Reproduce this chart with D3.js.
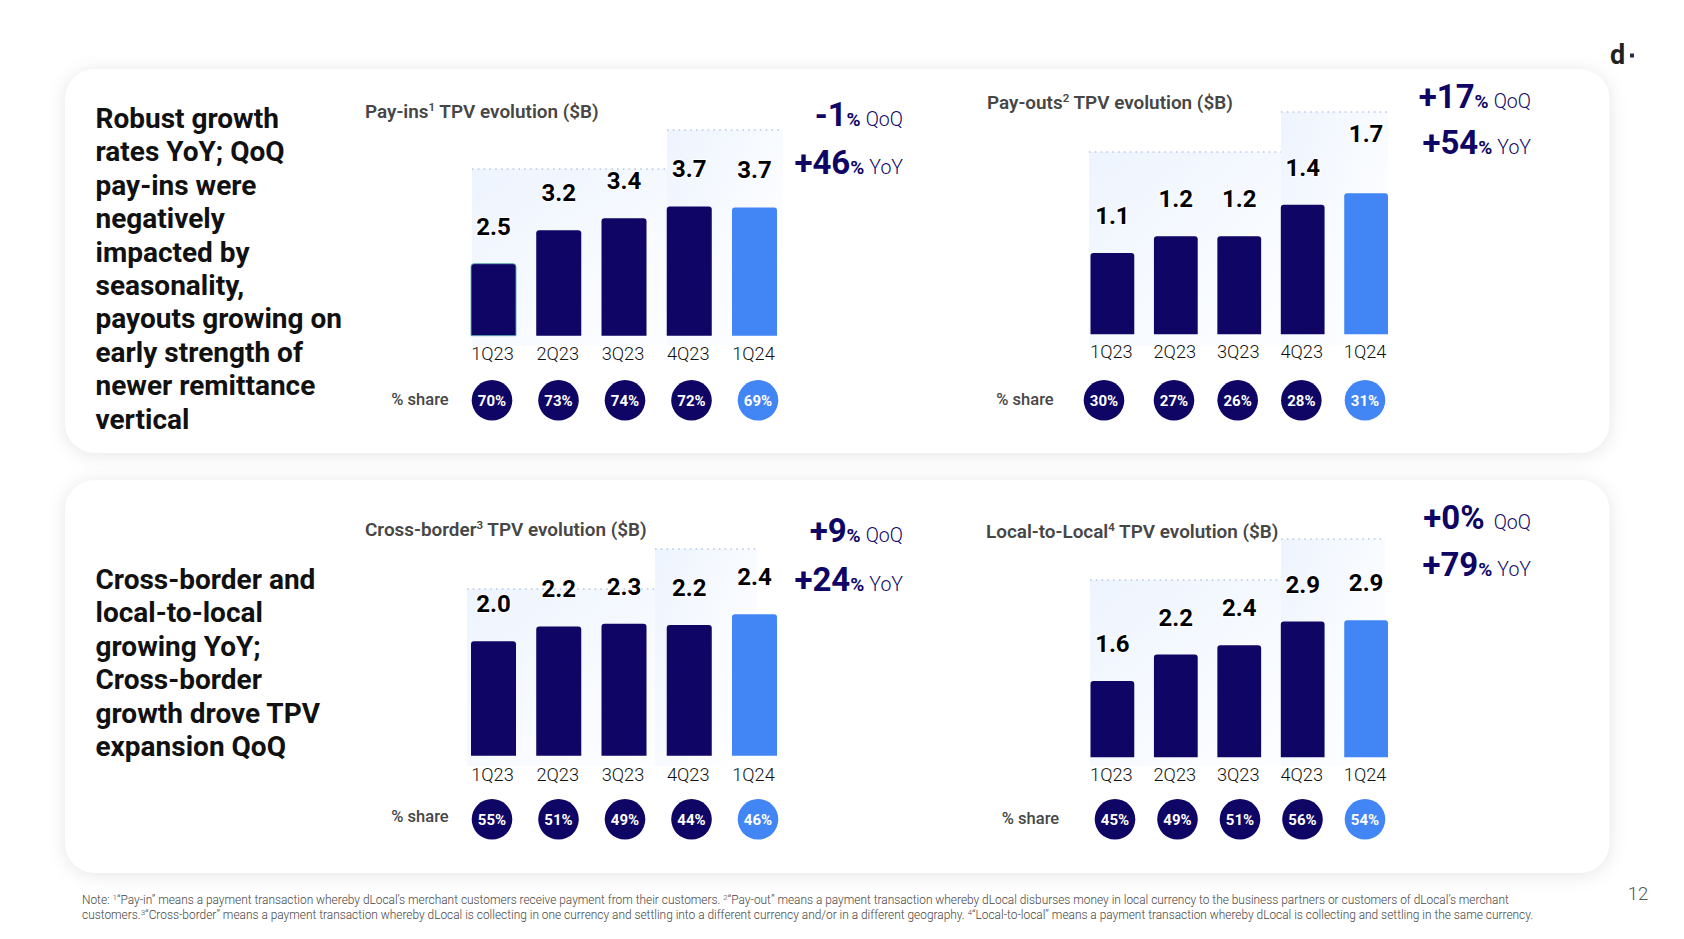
<!DOCTYPE html>
<html>
<head>
<meta charset="utf-8">
<script src="https://cdn.jsdelivr.net/npm/d3@7"></script>
<style>
html,body{margin:0;padding:0;background:#fff;}
svg{display:block;font-family:Roboto,sans-serif;}
.card{fill:#fff;filter:drop-shadow(0 2px 9px rgba(0,0,0,0.10));}
</style>
</head>
<body>
<script>
var quarters = ["1Q23","2Q23","3Q23","4Q23","1Q24"];

// bar heights, printed labels kept apart because the slide's bars are not exact
var payInsValues = [2.51,3.21,3.46,3.71,3.69];
var payInsLabels = ["2.5","3.2","3.4","3.7","3.7"];
var payInsShare = [70,73,74,72,69];

var payOutsValues = [0.98,1.18,1.18,1.56,1.70];
var payOutsLabels = ["1.1","1.2","1.2","1.4","1.7"];
var payOutsShare = [30,27,26,28,31];

var crossBorderValues = [2.0,2.22,2.26,2.24,2.40];
var crossBorderLabels = ["2.0","2.2","2.3","2.2","2.4"];
var crossBorderShare = [55,51,49,44,46];

var localValues = [1.64,2.21,2.41,2.92,2.95];
var localLabels = ["1.6","2.2","2.4","2.9","2.9"];
var localShare = [45,49,51,56,54];

var leftTop = ["Robust growth","rates YoY; QoQ","pay-ins were","negatively","impacted by","seasonality,","payouts growing on","early strength of","newer remittance","vertical"];
var leftBottom = ["Cross-border and","local-to-local","growing YoY;","Cross-border","growth drove TPV","expansion QoQ"];

var navy = "#0e0565", blue = "#4285f4", grey = "#464646";

var panels = [
 {title:"Pay-ins",sup:"1",tx:365,ty:118,values:payInsValues,labels:payInsLabels,share:payInsShare,
  qoq:"-1",yoy:"+46",rx:903,qy:126,yy:174,outline:0,
  bx:[471,777],by:335.7,base:1.0,ppu:47.7,tickY:347,
  bandA:[472,783,169],bandB:[667,783,130],bandBottom:346,
  sx:[492,558.5,758],sy:400.3,shareX:420,shareY:405},
 {title:"Pay-outs",sup:"2",tx:987,ty:109,values:payOutsValues,labels:payOutsLabels,share:payOutsShare,
  qoq:"+17",yoy:"+54",rx:1531,qy:108,yy:154,
  bx:[1090.5,1388],by:334.3,base:0,ppu:83,tickY:345,labelLift:{4:22},
  bandA:[1089,1388,152],bandB:[1281,1388,112],bandBottom:346,
  sx:[1104,1174,1365],sy:400.3,shareX:1025,shareY:405},
 {title:"Cross-border",sup:"3",tx:365,ty:536,values:crossBorderValues,labels:crossBorderLabels,share:crossBorderShare,
  qoq:"+9",yoy:"+24",rx:903,qy:542,yy:591,
  bx:[471,777],by:755.7,base:0.305,ppu:67.5,tickY:768,
  bandA:[467,757,589],bandB:[655,757,549],bandBottom:766,
  sx:[492,558.5,758],sy:819.3,shareX:420,shareY:822},
 {title:"Local-to-Local",sup:"4",tx:986,ty:538,values:localValues,labels:localLabels,share:localShare,
  qoq:"+0%",yoy:"+79",rx:1531,qy:529,yy:576,
  bx:[1090.5,1388],by:757.3,base:0,ppu:46.5,tickY:768,
  bandA:[1090,1385,580],bandB:[1281,1385,539],bandBottom:766,
  sx:[1115,1177.5,1365],sy:819.3,shareX:1030.5,shareY:824}
];

var svg = d3.select("body").append("svg").attr("width",1684).attr("height",939);

var grad = svg.append("defs").append("linearGradient").attr("id","bandFill")
    .attr("x1","0").attr("y1","0").attr("x2","1").attr("y2","0.8");
grad.append("stop").attr("offset","0").attr("stop-color","#eef4fe");
grad.append("stop").attr("offset","0.7").attr("stop-color","#fafcff");
grad.append("stop").attr("offset","1").attr("stop-color","#ffffff");

svg.append("rect").attr("class","card").attr("x",65).attr("y",69).attr("width",1544.5).attr("height",384).attr("rx",30);
svg.append("rect").attr("class","card").attr("x",65).attr("y",480).attr("width",1544.5).attr("height",393).attr("rx",30);

function leftText(lines,x,y){
    svg.append("g").selectAll("text").data(lines).join("text")
        .attr("x",x).attr("y",function(d,i){return y+i*33.4;})
        .attr("font-size",28).attr("font-weight",700).attr("fill","#111")
        .text(function(d){return d;});
}
leftText(leftTop,95.5,128);
leftText(leftBottom,95.5,589);

// bar with small rounded top corners
function barPath(x,y,w,h){
    var r = 3;
    return "M"+x+","+(y+h)+"V"+(y+r)+"Q"+x+","+y+" "+(x+r)+","+y+"H"+(x+w-r)+"Q"+(x+w)+","+y+" "+(x+w)+","+(y+r)+"V"+(y+h)+"Z";
}

function drawBand(g,b,bottom){
    g.append("rect").attr("x",b[0]).attr("y",b[2]).attr("width",b[1]-b[0]).attr("height",bottom-b[2]).attr("fill","url(#bandFill)");
    g.append("line").attr("x1",b[0]).attr("x2",b[1]).attr("y1",b[2]).attr("y2",b[2])
        .attr("stroke","#b9c6e6").attr("stroke-width",1.6).attr("stroke-dasharray","1.6 4.2");
}

function drawPanel(p){
    var g = svg.append("g");
    drawBand(g,p.bandA,p.bandBottom);
    drawBand(g,p.bandB,p.bandBottom);

    var x = d3.scaleBand().domain(quarters).range(p.bx).paddingInner(0.31).paddingOuter(0);
    var topValue = p.base+300/p.ppu;
    var y = d3.scaleLinear().domain([p.base,topValue]).range([p.by,p.by-300]);
    var rows = quarters.map(function(q,i){
        return {q:q,value:p.values[i],label:p.labels[i],share:p.share[i],last:i==quarters.length-1,i:i};
    });

    var title = g.append("text").attr("x",p.tx).attr("y",p.ty).attr("font-size",18.9).attr("font-weight",600).attr("fill",grey);
    title.append("tspan").text(p.title);
    title.append("tspan").attr("font-size",11.5).attr("dy",-7).text(p.sup);
    title.append("tspan").attr("dy",7).text(" TPV evolution ($B)");

    g.selectAll(".bar").data(rows).join("path").attr("class","bar")
        .attr("d",function(d){return barPath(x(d.q),y(d.value),x.bandwidth(),p.by-y(d.value));})
        .attr("fill",function(d){return d.last?blue:navy;})
        .attr("stroke",function(d){return d.i===p.outline?"#5fb0b5":"none";})
        .attr("stroke-width",0.9);

    g.selectAll(".val").data(rows).join("text").attr("class","val")
        .attr("x",function(d){return x(d.q)+x.bandwidth()/2;})
        .attr("y",function(d){return y(d.value)-29-((p.labelLift&&p.labelLift[d.i])||0);})
        .attr("text-anchor","middle").attr("font-size",24).attr("font-weight",700).attr("fill","#000")
        .attr("stroke","#fff").attr("stroke-width",2).attr("paint-order","stroke")
        .text(function(d){return d.label;});

    var axis = g.append("g").attr("transform","translate(-1,"+p.tickY+")")
        .call(d3.axisBottom(x).tickSize(0).tickPadding(0));
    axis.select(".domain").remove();
    axis.selectAll("text").attr("font-size",18.2).attr("font-family","Roboto").attr("font-weight",300).attr("fill","#111");

    var sx = d3.scaleLinear().domain([0,1,4]).range(p.sx);
    g.append("text").attr("x",p.shareX).attr("y",p.shareY).attr("text-anchor","middle")
        .attr("font-size",16.5).attr("font-weight",500).attr("fill",grey).text("% share");
    g.selectAll(".dot").data(rows).join("circle").attr("class","dot")
        .attr("cx",function(d){return sx(d.i);}).attr("cy",p.sy).attr("r",20.3)
        .attr("fill",function(d){return d.last?blue:navy;});
    g.selectAll(".pct").data(rows).join("text").attr("class","pct")
        .attr("x",function(d){return sx(d.i);}).attr("y",p.sy+5.3)
        .attr("text-anchor","middle").attr("font-size",15).attr("font-weight",700).attr("fill","#fff")
        .text(function(d){return d.share+"%";});

    growth(g,p.rx,p.qy,p.qoq,"QoQ");
    growth(g,p.rx,p.yy,p.yoy,"YoY");
}

function growth(g,x,y,num,unit){
    var t = g.append("text").attr("x",x).attr("y",y).attr("text-anchor","end").attr("fill",navy);
    t.append("tspan").attr("font-size",33).attr("font-weight",700).text(num);
    if(num.indexOf("%")<0){
        t.append("tspan").attr("font-size",19).attr("font-weight",700).text("%");
    }
    t.append("tspan").attr("font-size",19.5).attr("font-weight",300).attr("dx",num.indexOf("%")<0?5:9).text(unit);
}

panels.forEach(drawPanel);

// logo and page number
svg.append("text").attr("x",1610).attr("y",64).attr("font-size",27).attr("font-weight",700).attr("fill","#222").text("d");
svg.append("rect").attr("x",1630).attr("y",53.5).attr("width",4).attr("height",4).attr("fill","#2b2b50");
svg.append("text").attr("x",1638).attr("y",900).attr("text-anchor","middle").attr("font-size",18.5).attr("font-weight",300).attr("fill","#555").text("12");

// footnote, superscripts are kept as tspans
var note = [
 [["Note: ",0],["1",1],["“Pay-in” means a payment transaction whereby dLocal’s merchant customers receive payment from their customers. ",0],["2",1],["“Pay-out” means a payment transaction whereby dLocal disburses money in local currency to the business partners or customers of dLocal’s merchant",0]],
 [["customers.",0],["3",1],["“Cross-border” means a payment transaction whereby dLocal is collecting in one currency and settling into a different currency and/or in a different geography. ",0],["4",1],["“Local-to-local” means a payment transaction whereby dLocal is collecting and settling in the same currency.",0]]
];
note.forEach(function(line,i){
    var t = svg.append("text").attr("x",82).attr("y",904+i*15).attr("font-size",11.9).attr("font-weight",300).attr("fill","#444");
    line.forEach(function(part,j){
        var prevSup = j>0 && line[j-1][1];
        t.append("tspan").attr("font-size",part[1]?8:11.9)
            .attr("dy",part[1]?-4:(prevSup?4:0)).text(part[0]);
    });
});
</script>
</body>
</html>
